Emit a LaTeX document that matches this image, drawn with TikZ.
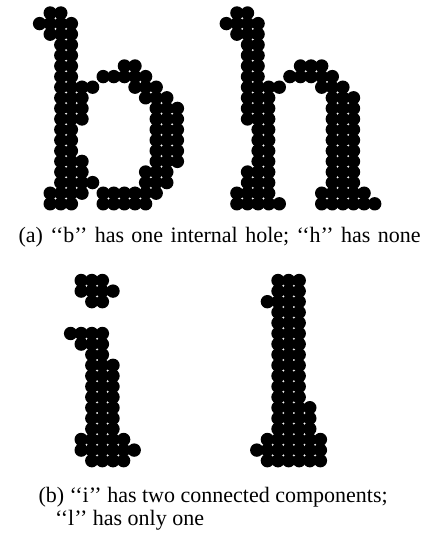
\documentclass[tikz,border=0pt]{standalone}
\usepackage{fontspec}
\setmainfont{Liberation Serif}
\newcommand\dotletter[3]{%
  \foreach \r/\a/\b in {#3} {%
    \foreach \c in {\a,...,\b} {%
      \fill[pix] ({#1+(\c)*10.6}, {-#2-(\r)*10.6}) circle[radius=6.7pt];
    }%
  }%
}
\begin{document}
\begin{tikzpicture}[x=1pt,y=1pt]
\tikzset{
  pix/.style={fill=black},
  captext/.style={inner sep=0pt, anchor=base west, font=\fontsize{22}{26}\selectfont}
}
\useasboundingbox (0,0) rectangle (427,-534);
% letter b
\dotletter{60.8}{13.0}{0/-1/0, 1/-2/1, 2/-1/1, 3/0/1, 4/0/1, 5/0/1, 5/6/7, 6/0/1, 6/4/8,
  7/0/3, 7/7/9, 8/0/2, 8/8/10, 9/0/2, 9/9/11, 10/0/2, 10/9/11, 11/0/1, 11/9/11,
  12/0/1, 12/9/11, 13/0/1, 13/9/11, 14/0/2, 14/9/11, 15/0/2, 15/8/10, 16/0/3, 16/8/10,
  17/-1/2, 17/4/9, 18/-1/1, 18/4/8}
% letter h
\dotletter{247.5}{13.0}{0/-1/0, 1/-2/1, 2/-1/1, 3/0/1, 4/0/1, 5/0/1, 5/5/7, 6/0/1, 6/4/8,
  7/0/3, 7/7/9, 8/0/2, 8/8/10, 9/0/2, 9/8/10, 10/0/2, 10/8/10, 11/1/2, 11/8/10,
  12/1/2, 12/8/10, 13/1/2, 13/8/10, 14/1/2, 14/8/10, 15/0/2, 15/8/10, 16/0/2, 16/8/10,
  17/-1/2, 17/7/11, 18/-1/3, 18/7/12}
% letter i
\dotletter{81.2}{280.5}{0/0/2, 1/0/3, 2/1/2,
  5/-1/2, 6/0/2, 7/1/2, 8/1/3, 9/1/3, 10/1/3, 11/1/3, 12/1/3, 13/1/3, 14/1/3,
  15/0/4, 16/0/5, 17/1/4}
% letter l
\dotletter{278}{280.5}{0/0/2, 1/0/2, 2/-1/2, 3/0/2, 4/0/2, 5/0/2, 6/0/2, 7/0/2, 8/0/2,
  9/0/2, 10/0/2, 11/0/2, 12/0/3, 13/0/3, 14/0/3, 15/-1/4, 16/-2/4, 17/-1/4}
% captions
\node[captext] (capa) at (18.3,-242.3) {\spaceskip=7.4pt plus 1pt\relax (a) ‘‘b’’ has one internal hole; ‘‘h’’ has none};
\node[captext] (capb1) at (38.3,-502.3) {(b) ‘‘i’’ has two connected components;};
\node[captext] (capb2) at (55,-525) {‘‘l’’ has only one};
\end{tikzpicture}
\end{document}
